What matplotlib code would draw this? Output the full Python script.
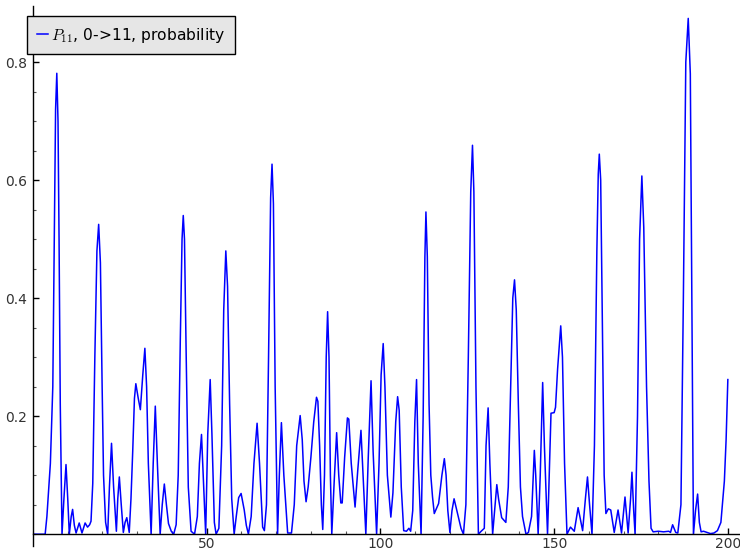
import numpy as np
import matplotlib
matplotlib.use("Agg")
import matplotlib.pyplot as plt
from matplotlib.ticker import MultipleLocator, FixedLocator

plt.rcParams['mathtext.fontset'] = 'cm'

# time steps and transfer probability P_11 (node 0 -> node 11)
t = [0, 3.5, 4.0, 5.0, 5.7, 6.2, 6.5, 6.85, 7.2, 7.5, 7.85, 8.35,
     8.9, 9.5, 10.0, 10.45, 11.0, 11.4, 11.9, 12.4, 13.3, 14.1, 15.0, 15.7,
     16.3, 16.7, 17.2, 17.8, 18.4, 18.9, 19.4, 19.9, 20.3, 20.9, 21.5,
     22.0, 22.6, 23.2, 24.0, 24.4, 24.85, 25.4, 26.0, 26.5, 27.0, 27.7,
     28.2, 28.7, 29.2, 29.6, 30.3, 30.9, 31.6, 32.2, 32.7, 33.2, 34.0,
     34.6, 35.2, 35.8, 36.6, 37.2, 37.8, 38.4, 39.0, 39.8, 40.5, 41.2,
     41.8, 42.4, 42.9, 43.25, 43.6, 44.1, 44.7, 45.5, 46.5, 47.3, 47.9,
     48.5, 49.0, 49.7, 50.3, 51.0, 51.5, 52.2, 52.7, 53.5, 54.3, 54.9,
     55.5, 56.0, 56.6, 57.2, 57.9, 58.5, 59.2, 59.9, 60.8, 61.4, 62.0,
     62.8, 63.6, 64.5, 65.2, 66.1, 66.6, 67.2, 67.8, 68.4, 68.8, 69.2,
     69.7, 70.4, 70.9, 71.5, 72.2, 73.3, 74.4, 75.2, 75.9, 76.5, 76.9,
     77.5, 78.0, 78.6, 79.2, 80.0, 80.8, 81.6, 82.0, 82.5, 83.0, 83.4,
     83.9, 84.4, 84.8, 85.2, 85.6, 86.0, 86.7, 87.4, 88.0, 88.6, 89.0,
     89.7, 90.5, 90.9, 91.6, 92.7, 93.5, 94.4, 95.0, 95.8, 96.5, 97.3,
     97.9, 98.9, 99.6, 100.2, 100.8, 101.3, 102.0, 103.0, 103.6, 104.4,
     104.95, 105.4, 106.0, 106.7, 107.5, 108.2, 108.7, 109.3, 109.9,
     110.4, 110.9, 111.7, 112.3, 112.8, 113.1, 113.5, 114.0, 114.5,
     115.0, 115.5, 116.75, 117.7, 118.4, 118.9, 119.4, 120.0, 120.6,
     121.2, 122.2, 123.2, 123.9, 124.6, 125.3, 126.0, 126.5, 126.9,
     127.5, 128.2, 129.0, 129.9, 130.4, 131.0, 131.5, 132.3, 133.0,
     133.5, 134.0, 134.9, 136.1, 136.8, 137.5, 138.1, 138.6, 139.1,
     139.7, 140.3, 140.9, 141.9, 142.6, 143.5, 144.3, 144.7, 145.4,
     146.0, 146.7, 147.2, 148.1, 148.6, 149.1, 150.0, 150.4, 151.0,
     151.9, 152.4, 153.0, 153.7, 154.7, 155.8, 156.9, 158.2, 159.0,
     159.6, 160.2, 160.9, 161.6, 162.3, 162.7, 163.0, 163.4, 163.9,
     164.4, 164.9, 165.6, 166.3, 167.3, 168.4, 169.4, 170.4, 171.3,
     172.0, 172.4, 172.9, 173.3, 174.0, 174.6, 175.25, 175.8, 176.6,
     177.3, 177.9, 178.5, 180.0, 181.5, 183.0, 183.5, 184.1, 185.0,
     185.6, 186.5, 187.2, 187.9, 188.6, 189.2, 189.7, 190.1, 190.7,
     191.3, 191.8, 192.3, 193.0, 194.0, 195.0, 196.0, 197.0, 198.0,
     199.0, 199.5, 200.0]
p = [0, 0.0, 0.03, 0.12, 0.25, 0.55, 0.72, 0.781, 0.70, 0.50, 0.22, 0.0,
     0.06, 0.118, 0.06, 0.0, 0.03, 0.042, 0.015, 0.002, 0.019, 0.002, 0.019, 0.012,
     0.016, 0.022, 0.086, 0.30, 0.48, 0.525, 0.46, 0.25, 0.10, 0.02, 0.0,
     0.08, 0.154, 0.08, 0.005, 0.06, 0.097, 0.05, 0.003, 0.02, 0.028, 0.003,
     0.06, 0.14, 0.23, 0.255, 0.23, 0.211, 0.27, 0.315, 0.25, 0.12, 0.0,
     0.12, 0.217, 0.12, 0.0, 0.05, 0.085, 0.05, 0.018, 0.005, 0.0, 0.016,
     0.10, 0.33, 0.50, 0.540, 0.50, 0.30, 0.08, 0.005, 0.0, 0.03, 0.12,
     0.169, 0.10, 0.0, 0.17, 0.262, 0.17, 0.02, 0.0, 0.01, 0.15, 0.38,
     0.480, 0.42, 0.22, 0.06, 0.0, 0.03, 0.062, 0.069, 0.041, 0.015, 0.0,
     0.03, 0.12, 0.188, 0.12, 0.012, 0.006, 0.05, 0.30, 0.57, 0.627, 0.56,
     0.25, 0.0, 0.10, 0.189, 0.10, 0.002, 0.002, 0.05, 0.15, 0.18, 0.201,
     0.16, 0.09, 0.055, 0.08, 0.131, 0.19, 0.232, 0.225, 0.15, 0.05, 0.008,
     0.10, 0.30, 0.377, 0.30, 0.10, 0.0, 0.09, 0.172, 0.10, 0.053, 0.053,
     0.13, 0.197, 0.195, 0.12, 0.046, 0.11, 0.176, 0.10, 0.0, 0.13, 0.260,
     0.14, 0.0, 0.12, 0.27, 0.323, 0.25, 0.10, 0.029, 0.07, 0.19,
     0.233, 0.21, 0.08, 0.006, 0.005, 0.01, 0.005, 0.04, 0.19,
     0.262, 0.12, 0.0, 0.20, 0.47, 0.546, 0.47, 0.22, 0.10,
     0.063, 0.035, 0.052, 0.10, 0.128, 0.10, 0.04, 0.003, 0.04,
     0.060, 0.035, 0.01, 0.0, 0.05, 0.30, 0.58, 0.659, 0.58,
     0.25, 0.0, 0.005, 0.01, 0.15, 0.214, 0.12, 0.0, 0.05,
     0.084, 0.06, 0.028, 0.020, 0.08, 0.25, 0.40, 0.431, 0.38,
     0.22, 0.08, 0.03, 0.0, 0.003, 0.03, 0.142, 0.10, 0.0,
     0.10, 0.257, 0.15, 0.0, 0.10, 0.205, 0.206, 0.215, 0.28,
     0.353, 0.30, 0.12, 0.0, 0.012, 0.005, 0.045, 0.006, 0.06,
     0.097, 0.05, 0.0, 0.15, 0.48, 0.61, 0.644, 0.60, 0.35,
     0.10, 0.035, 0.043, 0.041, 0.003, 0.041, 0.002, 0.063, 0.002,
     0.06, 0.105, 0.04, 0.0, 0.20, 0.50, 0.607, 0.52, 0.25,
     0.09, 0.01, 0.004, 0.005, 0.004, 0.005, 0.003, 0.016, 0.003,
     0.002, 0.05, 0.40, 0.80, 0.874, 0.78, 0.35, 0.0, 0.04,
     0.068, 0.02, 0.004, 0.005, 0.003, 0.001, 0.002, 0.006, 0.02,
     0.09, 0.16, 0.262]

x_major = [50, 100, 150, 200]
y_major = [0.2, 0.4, 0.6, 0.8]

fig = plt.figure(figsize=(7.4, 5.51), dpi=100)
ax = fig.add_axes([33 / 740, 5 / 551, 1 - 33 / 740, 540 / 551])

ax.plot(t, p, color='#0000ff', linewidth=1.1,
        label=r'$P_{11}$, 0->11, probability')

ax.set_xlim(0, 203.5)
ax.set_ylim(-0.02, 0.895)

# axes through the origin, no frame
ax.spines['left'].set_position(('data', 0))
ax.spines['bottom'].set_position(('data', 0))
ax.spines['top'].set_visible(False)
ax.spines['right'].set_visible(False)
for s in ('left', 'bottom'):
    ax.spines[s].set_linewidth(1.0)

ax.xaxis.set_major_locator(FixedLocator(x_major))
ax.xaxis.set_minor_locator(MultipleLocator(10))
ax.yaxis.set_major_locator(FixedLocator(y_major))
ax.yaxis.set_minor_locator(MultipleLocator(0.05))
ax.tick_params(which='major', direction='in', length=4, width=1,
               labelsize=10, labelcolor='#333333')
ax.tick_params(axis='x', which='major', pad=2)
ax.tick_params(axis='y', which='major', pad=4)
ax.tick_params(which='minor', direction='in', length=2.5, width=0.8,
               color='#555555')
ax.set_yticklabels([str(v) for v in y_major])

leg = ax.legend(loc='upper left', bbox_to_anchor=(27 / 740, 1 - 16 / 551),
                bbox_transform=fig.transFigure, borderaxespad=0,
                fontsize=11.2, handlelength=0.7, handletextpad=0.25,
                borderpad=0.62, fancybox=False, framealpha=1)
leg.get_frame().set_facecolor('#e6e6e6')
leg.get_frame().set_edgecolor('black')
leg.get_frame().set_linewidth(1.0)

fig.savefig('out.png', dpi=100)
